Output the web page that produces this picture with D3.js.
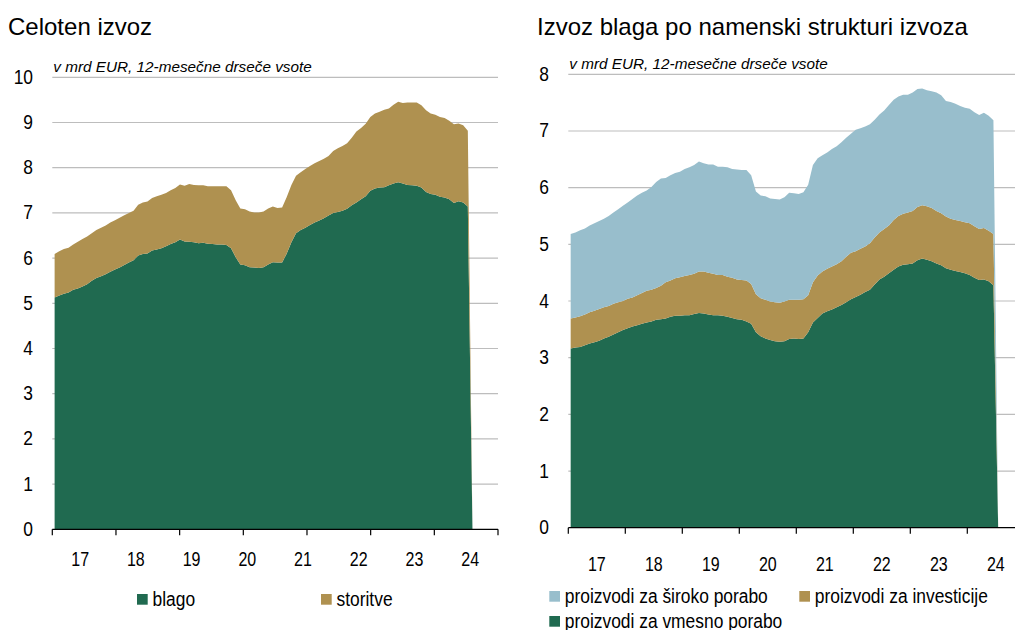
<!DOCTYPE html>
<html lang="sl">
<head>
<meta charset="UTF-8">
<title>Izvoz</title>
<script src="https://cdn.jsdelivr.net/npm/d3@7"></script>
<style>
    body { margin: 0; background: #fff; }
    svg text { font-family: "Liberation Sans", Arial, sans-serif; fill: #000; }
    .tl { font-size: 20px; }
</style>
</head>
<body>
<svg id="chart" width="1015" height="630"></svg>
<script>
// year labels on the x axis (monthly data, Jan 2017 onwards)
const yearLabels = ["17", "18", "19", "20", "21", "22", "23", "24"];

// left: total exports, bn EUR, 12-month rolling sums
const blago = [
    5.13, 5.17, 5.21, 5.24, 5.30, 5.33, 5.37, 5.42, 5.50, 5.56, 5.60, 5.64,
    5.70, 5.75, 5.79, 5.85, 5.90, 5.95, 6.06, 6.09, 6.10, 6.17, 6.19, 6.22,
    6.26, 6.31, 6.35, 6.41, 6.37, 6.36, 6.35, 6.33, 6.34, 6.32, 6.31, 6.30,
    6.30, 6.29, 6.22, 6.02, 5.86, 5.84, 5.80, 5.79, 5.78, 5.80, 5.86, 5.91,
    5.90, 5.90, 6.10, 6.35, 6.55, 6.62, 6.67, 6.73, 6.79, 6.83, 6.88, 6.94,
    7.00, 7.02, 7.05, 7.09, 7.17, 7.23, 7.30, 7.37, 7.49, 7.54, 7.56, 7.57,
    7.61, 7.65, 7.68, 7.65, 7.62, 7.61, 7.60, 7.56, 7.46, 7.42, 7.40, 7.36,
    7.34, 7.30, 7.22, 7.26, 7.23, 7.14, 0
];
const storitve = [
    0.96, 0.98, 0.99, 0.99, 1.00, 1.03, 1.05, 1.06, 1.05, 1.06, 1.07, 1.08,
    1.09, 1.09, 1.10, 1.10, 1.10, 1.10, 1.12, 1.14, 1.15, 1.16, 1.18, 1.18,
    1.18, 1.19, 1.20, 1.22, 1.23, 1.28, 1.27, 1.28, 1.27, 1.27, 1.28, 1.29,
    1.29, 1.30, 1.28, 1.26, 1.24, 1.24, 1.23, 1.22, 1.23, 1.23, 1.24, 1.23,
    1.21, 1.22, 1.25, 1.27, 1.27, 1.28, 1.30, 1.31, 1.31, 1.32, 1.32, 1.32,
    1.37, 1.41, 1.43, 1.45, 1.49, 1.57, 1.58, 1.60, 1.63, 1.66, 1.68, 1.71,
    1.70, 1.74, 1.78, 1.78, 1.82, 1.83, 1.84, 1.82, 1.81, 1.78, 1.77, 1.76,
    1.76, 1.74, 1.74, 1.72, 1.71, 1.68, 0
];

// right: goods exports by end use
const vmesno = [
    3.16, 3.18, 3.19, 3.22, 3.25, 3.27, 3.30, 3.34, 3.37, 3.41, 3.45, 3.49,
    3.52, 3.55, 3.57, 3.60, 3.62, 3.64, 3.67, 3.68, 3.69, 3.72, 3.74, 3.74,
    3.75, 3.75, 3.77, 3.79, 3.78, 3.76, 3.75, 3.75, 3.74, 3.72, 3.70, 3.68,
    3.67, 3.64, 3.60, 3.45, 3.38, 3.34, 3.31, 3.29, 3.28, 3.29, 3.33, 3.34,
    3.33, 3.34, 3.45, 3.62, 3.70, 3.78, 3.82, 3.85, 3.89, 3.93, 3.98, 4.03,
    4.07, 4.11, 4.16, 4.20, 4.29, 4.38, 4.43, 4.49, 4.55, 4.61, 4.64, 4.65,
    4.66, 4.72, 4.75, 4.73, 4.70, 4.66, 4.63, 4.58, 4.55, 4.53, 4.51, 4.49,
    4.46, 4.41, 4.37, 4.38, 4.35, 4.28, 0
];
const investicije = [
    0.53, 0.53, 0.54, 0.54, 0.55, 0.56, 0.56, 0.55, 0.54, 0.54, 0.53, 0.51,
    0.52, 0.51, 0.53, 0.54, 0.56, 0.56, 0.56, 0.59, 0.64, 0.64, 0.66, 0.68,
    0.69, 0.71, 0.71, 0.73, 0.74, 0.74, 0.73, 0.71, 0.72, 0.71, 0.71, 0.70,
    0.70, 0.72, 0.70, 0.67, 0.67, 0.68, 0.68, 0.69, 0.69, 0.70, 0.69, 0.68,
    0.69, 0.69, 0.65, 0.71, 0.75, 0.74, 0.75, 0.76, 0.76, 0.77, 0.80, 0.82,
    0.81, 0.81, 0.80, 0.82, 0.83, 0.83, 0.84, 0.84, 0.88, 0.89, 0.90, 0.91,
    0.93, 0.94, 0.94, 0.94, 0.94, 0.93, 0.92, 0.91, 0.90, 0.90, 0.90, 0.90,
    0.91, 0.91, 0.90, 0.91, 0.89, 0.90, 0
];
const siroko = [
    1.49, 1.50, 1.52, 1.52, 1.53, 1.54, 1.55, 1.56, 1.59, 1.61, 1.64, 1.68,
    1.70, 1.74, 1.76, 1.77, 1.77, 1.81, 1.87, 1.89, 1.84, 1.86, 1.86, 1.86,
    1.89, 1.90, 1.92, 1.94, 1.91, 1.91, 1.93, 1.91, 1.91, 1.93, 1.92, 1.94,
    1.94, 1.95, 1.92, 1.81, 1.81, 1.83, 1.82, 1.82, 1.82, 1.84, 1.89, 1.88,
    1.87, 1.89, 1.95, 2.07, 2.07, 2.05, 2.05, 2.07, 2.08, 2.10, 2.10, 2.10,
    2.14, 2.13, 2.12, 2.10, 2.08, 2.08, 2.09, 2.13, 2.12, 2.11, 2.10, 2.08,
    2.09, 2.08, 2.06, 2.05, 2.06, 2.09, 2.08, 2.04, 2.06, 2.05, 2.03, 2.02,
    2.02, 2.01, 2.01, 2.03, 2.03, 2.01, 0
];

const leftKeys = ["blago", "storitve"];
const leftNames = ["blago", "storitve"];
const rightKeys = ["vmesno", "investicije", "siroko"];
const rightNames = ["proizvodi za vmesno porabo", "proizvodi za investicije", "proizvodi za široko porabo"];

const colors = { blago: "#206a50", storitve: "#af9150", vmesno: "#206a50", investicije: "#af9150", siroko: "#98becc" };

const svg = d3.select("#chart");

const leftRows = blago.map((v, i) => ({ blago: v, storitve: storitve[i] }));
const rightRows = vmesno.map((v, i) => ({ vmesno: v, investicije: investicije[i], siroko: siroko[i] }));

// the labels in the original look horizontally squeezed
function squeezed(sel, fx, fy, sx) {
    return sel.attr("x", 0).attr("y", 0)
        .attr("transform", (d, i) => `translate(${fx(d, i)},${fy(d, i)}) scale(${sx},1)`);
}

function drawPanel(p) {
    const g = svg.append("g");
    const x = d3.scaleLinear().domain([-0.5, 95.5]).range([p.x0, p.x0 + 96 * p.mw]);
    const y = d3.scaleLinear().domain([0, p.yMax]).range([p.yZero, p.yTopPx]);

    // gridlines
    g.selectAll(".grid").data(d3.range(1, p.yMax + 1)).enter().append("line")
        .attr("x1", p.x0).attr("x2", p.x1)
        .attr("y1", d => y(d)).attr("y2", d => y(d))
        .attr("stroke", "#bdbdbd").attr("stroke-width", 1.2);

    // stacked areas
    const series = d3.stack().keys(p.keys)(p.rows);
    const area = d3.area()
        .x((d, i) => x(i))
        .y0(d => y(d[0]))
        .y1(d => y(d[1]));
    g.selectAll(".area").data(series).enter().append("path")
        .attr("d", area)
        .attr("fill", d => colors[d.key]);

    // y labels
    squeezed(g.selectAll(".ylab").data(d3.range(0, p.yMax + 1)).enter().append("text")
        .attr("class", "tl").attr("text-anchor", "end").text(d => d),
        () => p.yLabelX, d => y(d) + 6.5, 0.87);

    // x axis line and ticks
    g.append("line").attr("x1", p.x0).attr("x2", p.x1)
        .attr("y1", p.yZero).attr("y2", p.yZero)
        .attr("stroke", "#000").attr("stroke-width", 1.2);
    g.selectAll(".xtick").data(p.tickX).enter().append("line")
        .attr("x1", d => d).attr("x2", d => d)
        .attr("y1", p.yZero).attr("y2", p.yZero + 6)
        .attr("stroke", "#000").attr("stroke-width", 1.2);

    // year labels, centred on mid-year
    squeezed(g.selectAll(".xlab").data(yearLabels).enter().append("text")
        .attr("class", "tl").attr("text-anchor", "middle").text(d => d),
        (d, i) => x(5.5 + 12 * i), () => p.xLabelY, 0.8);

    // titles
    g.append("text").attr("x", p.titleX).attr("y", 35)
        .attr("font-size", "24px").text(p.title);
    g.append("text").attr("x", p.x0 + 1).attr("y", p.subY)
        .attr("font-size", "15.3px").attr("font-style", "italic")
        .text("v mrd EUR, 12-mesečne drseče vsote");

    // legend
    const lg = g.selectAll(".leg").data(p.legend).enter().append("g")
        .attr("transform", d => `translate(${d.x},${d.y})`);
    lg.append("rect").attr("width", 10.7).attr("height", 10.7)
        .attr("fill", d => colors[d.key]);
    squeezed(lg.append("text").attr("class", "tl").text(d => d.name),
        () => 15.5, () => 11.5, 0.87);
}

const leftTicks = d3.scaleLinear().domain([0, 7]).range([52.3, 498]);
drawPanel({
    keys: leftKeys, rows: leftRows, yMax: 10,
    x0: 52.3, x1: 498, mw: (498 - 52.3) / 96,
    yZero: 529.3, yTopPx: 77.3,
    yLabelX: 33, xLabelY: 565.5,
    tickX: d3.range(8).map(leftTicks),
    title: "Celoten izvoz", titleX: 8, subY: 72,
    legend: [
        { key: leftKeys[0], name: leftNames[0], x: 137, y: 594 },
        { key: leftKeys[1], name: leftNames[1], x: 321, y: 594 }
    ]
});

const rightX = d3.scaleLinear().domain([-0.5, 95.5]).range([568.3, 568.3 + 96 * 4.75]);
drawPanel({
    keys: rightKeys, rows: rightRows, yMax: 8,
    x0: 568.3, x1: 1015, mw: 4.75,
    yZero: 527.7, yTopPx: 74.3,
    yLabelX: 549, xLabelY: 570.5,
    tickX: d3.range(9).map(k => rightX(-0.5 + 12 * k)),
    title: "Izvoz blaga po namenski strukturi izvoza", titleX: 537, subY: 68.5,
    legend: [
        { key: rightKeys[2], name: rightNames[2], x: 549.3, y: 591 },
        { key: rightKeys[1], name: rightNames[1], x: 799.3, y: 591 },
        { key: rightKeys[0], name: rightNames[0], x: 549.3, y: 616 }
    ]
});
</script>
</body>
</html>
